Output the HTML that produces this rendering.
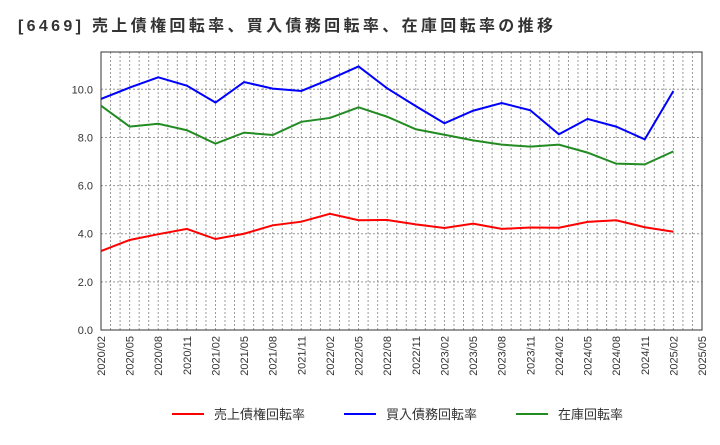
<!DOCTYPE html>
<html><head><meta charset="utf-8"><style>
body{margin:0;background:#fff;font-family:"Liberation Sans","Noto Sans CJK JP",sans-serif;}
svg text{font-family:"Liberation Sans","Noto Sans CJK JP",sans-serif;}
</style></head><body>
<svg id="c" width="720" height="440">
<text x="18" y="31" font-size="16" font-weight="bold" fill="#333" textLength="535" lengthAdjust="spacing">[6469]  売上債権回転率、買入債務回転率、在庫回転率の推移</text>
<g id="grid"></g><g id="axes"></g><g id="series"></g><g id="legend"></g>
</svg>
<script>
const categories=["2020/02","2020/05","2020/08","2020/11","2021/02","2021/05","2021/08","2021/11","2022/02","2022/05","2022/08","2022/11","2023/02","2023/05","2023/08","2023/11","2024/02","2024/05","2024/08","2024/11","2025/02","2025/05"];
const receivables=[3.28,3.74,3.98,4.2,3.78,4.0,4.35,4.5,4.83,4.56,4.57,4.39,4.24,4.42,4.2,4.26,4.25,4.49,4.56,4.27,4.08];
const payables=[9.6,10.07,10.5,10.15,9.45,10.3,10.03,9.93,10.42,10.95,10.04,9.3,8.59,9.11,9.43,9.13,8.13,8.77,8.45,7.92,9.93];
const inventory=[9.32,8.45,8.57,8.3,7.74,8.2,8.1,8.65,8.81,9.25,8.86,8.34,8.11,7.88,7.7,7.62,7.7,7.37,6.91,6.88,7.42];
const yTicks=[0,2,4,6,8,10];
const yLabels=["0.0","2.0","4.0","6.0","8.0","10.0"];
const L=101,R=702,T=52,B=330;
const step=(R-L)/(categories.length-1);
const xs=i=>L+i*step;
const ys=v=>B-v*24.07;
const NS="http://www.w3.org/2000/svg";
function mk(p,t,a){const e=document.createElementNS(NS,t);for(const k in a)e.setAttribute(k,a[k]);p.appendChild(e);return e;}
const grid=document.getElementById('grid'),axes=document.getElementById('axes'),ser=document.getElementById('series'),leg=document.getElementById('legend');
mk(grid,'rect',{x:L,y:T,width:R-L,height:B-T,fill:'#fff'});
for(let m=1;m<63;m++){const x=L+m*step/3;
const g=mk(grid,'line',{x1:x,x2:x,y1:T,y2:B,stroke:'#999','stroke-dasharray':'2,2','stroke-width':1});

}
yTicks.forEach((v,i)=>{const y=ys(v);
const g=mk(grid,'line',{x1:L,x2:R,y1:y,y2:y,stroke:'#999','stroke-dasharray':'2,2'});


const t=mk(axes,'text',{x:L-8,y:y+4,'text-anchor':'end','font-size':11,fill:'#333'});t.textContent=yLabels[i];

});
categories.forEach((c,i)=>{const x=xs(i);
const t=mk(axes,'text',{x:0,y:0,'text-anchor':'end','font-size':11,fill:'#333',transform:`translate(${x+4},${B+6}) rotate(-90)`});t.textContent=c;

});
const fr=mk(axes,'rect',{x:L,y:T,width:R-L,height:B-T,fill:'none',stroke:'#333'});


const defs=[[receivables,'#ff0000','売上債権回転率','receivables-line'],[payables,'#0000ff','買入債務回転率','payables-line'],[inventory,'#228b22','在庫回転率','inventory-line']];
defs.forEach(([d,c,n,id])=>{const p=mk(ser,'polyline',{points:d.map((v,i)=>xs(i)+','+ys(v)).join(' '),fill:'none',stroke:c,'stroke-width':2});

});
const lx=[172,344,516];
defs.forEach(([d,c,n,id],i)=>{const g=mk(leg,'g',{});


mk(g,'line',{x1:lx[i],x2:lx[i]+32,y1:414,y2:414,stroke:c,'stroke-width':2});
const t=mk(g,'text',{x:lx[i]+42,y:419,'font-size':13,fill:'#333'});t.textContent=n;});
</script>
</body></html>
